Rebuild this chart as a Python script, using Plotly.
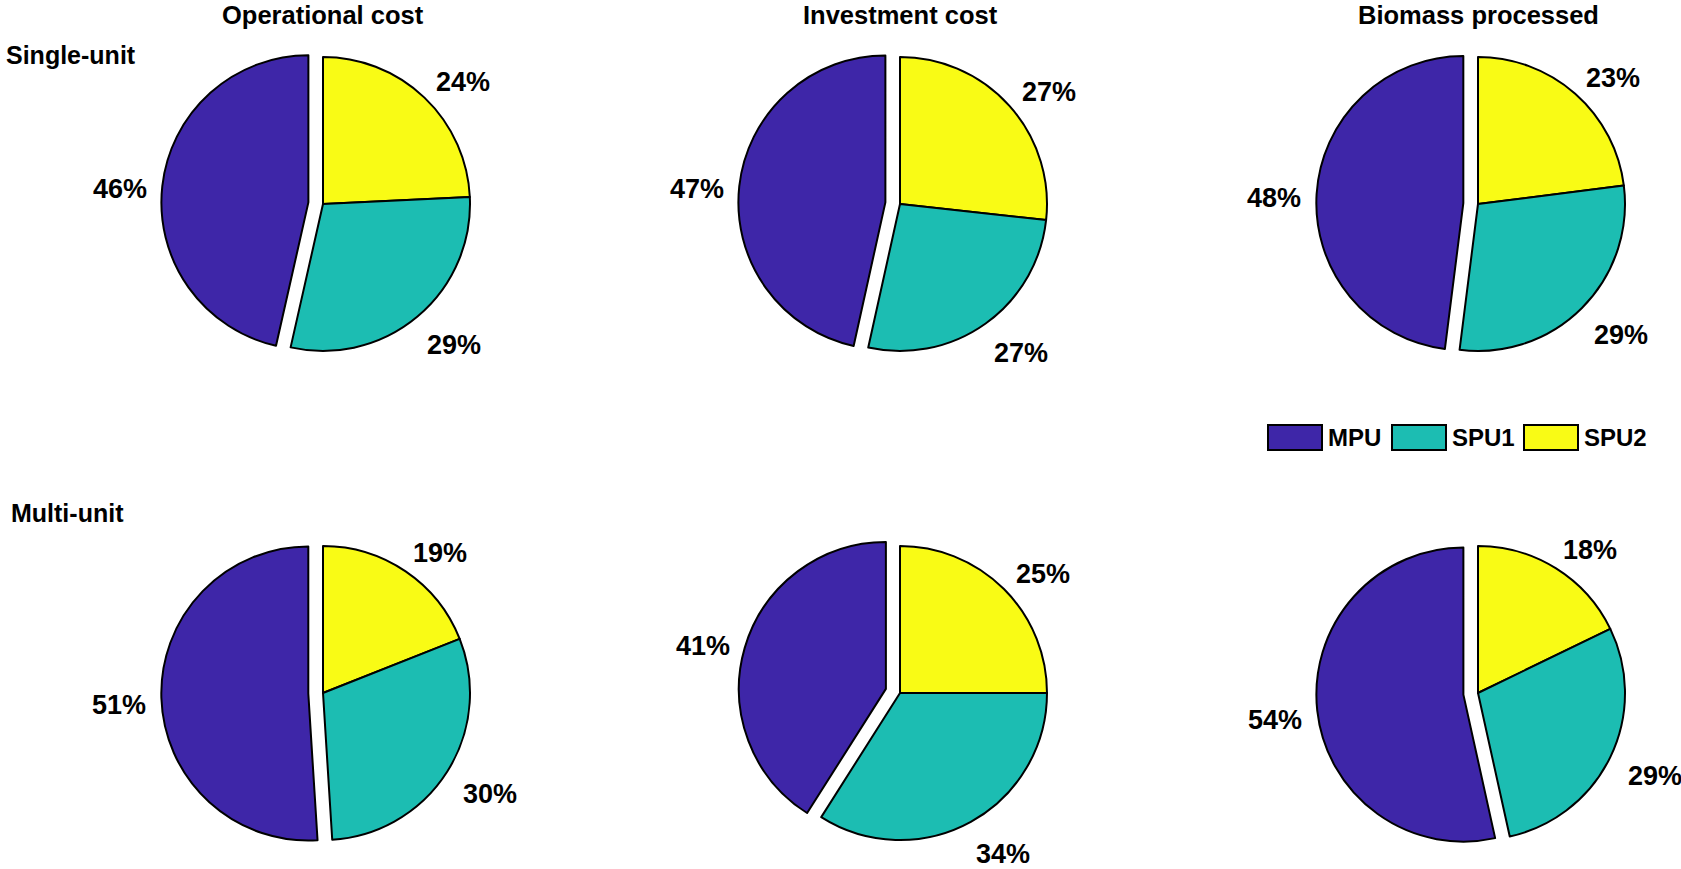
import math
import plotly.graph_objects as go

# ---- data ----
units = ["SPU2", "SPU1", "MPU"]          # clockwise from 12 o'clock
colors = ["#F9FB15", "#1CBDB2", "#3E26A8"]
legend_order = ["MPU", "SPU1", "SPU2"]
columns = ["Operational cost", "Investment cost", "Biomass processed"]
rows = ["Single-unit", "Multi-unit"]

single_operational = [24, 29, 46]
single_investment = [27, 27, 47]
single_biomass = [23, 29, 48]
multi_operational = [19, 30, 51]
multi_investment = [25, 34, 41]
multi_biomass = [18, 29, 54]

explode = [0, 0, 0.1]

# ---- layout constants ----
W, H = 1681, 869
centers_x = [323, 900, 1478]
centers_y = [204, 693]
R = 147
LABEL_DIST = 1.2    # label anchor distance from slice centre, in radii
PAD_X_RIGHT, PAD_X_LEFT, PAD_Y = 18, 13, 6

FONT = "Liberation Sans, Arial, sans-serif"

fig = go.Figure()
grid = [[single_operational, single_investment, single_biomass],
        [multi_operational, multi_investment, multi_biomass]]

half = R * (1 + max(explode))
for r, row_vals in enumerate(grid):
    for c, vals in enumerate(row_vals):
        cx, cy = centers_x[c], centers_y[r]
        fig.add_trace(go.Pie(
            labels=units,
            values=vals,
            textinfo="none",
            marker=dict(colors=colors, line=dict(color="black", width=2)),
            sort=False,
            direction="clockwise",
            rotation=0,
            pull=explode,
            hoverinfo="label+percent",
            showlegend=False,
            domain=dict(x=[(cx - half) / W, (cx + half) / W],
                        y=[1 - (cy + half) / H, 1 - (cy - half) / H]),
        ))
        # percentage labels placed along each slice bisector
        total = sum(vals)
        cum = 0
        for v, p in zip(vals, explode):
            mid = (cum + v / 2) / total * 2 * math.pi
            cum += v
            d = (LABEL_DIST + p) * R
            sx = math.sin(mid)
            lx = cx + d * sx + (PAD_X_RIGHT if sx >= 0 else -PAD_X_LEFT)
            ly = cy - d * math.cos(mid) + PAD_Y
            fig.add_annotation(text=f"<b>{v}%</b>", x=lx / W, y=1 - ly / H,
                               xref="paper", yref="paper", xanchor="center", yanchor="middle",
                               showarrow=False, borderpad=0,
                               font=dict(family=FONT, size=27, color="black"))

# column titles
for c, title in enumerate(columns):
    fig.add_annotation(text=f"<b>{title}</b>", x=centers_x[c] / W, y=1 - 15 / H,
                       xref="paper", yref="paper", xanchor="center", yanchor="middle",
                       showarrow=False, font=dict(family=FONT, size=25.5, color="black"))

# row labels
fig.add_annotation(text=f"<b>{rows[0]}</b>", x=4 / W, y=1 - 55 / H, xref="paper", yref="paper",
                   xanchor="left", yanchor="middle", showarrow=False,
                   font=dict(family=FONT, size=25, color="black"))
fig.add_annotation(text=f"<b>{rows[1]}</b>", x=9 / W, y=1 - 513 / H, xref="paper", yref="paper",
                   xanchor="left", yanchor="middle", showarrow=False,
                   font=dict(family=FONT, size=25, color="black"))

# legend (wide MATLAB-style swatches)
leg_x0 = [1268, 1392, 1524]
leg_w, leg_y0, leg_y1 = 54, 425, 450
for name, x0 in zip(legend_order, leg_x0):
    col = colors[units.index(name)]
    fig.add_shape(type="rect", xref="paper", yref="paper",
                  x0=x0 / W, x1=(x0 + leg_w) / W, y0=1 - leg_y1 / H, y1=1 - leg_y0 / H,
                  fillcolor=col, line=dict(color="black", width=2))
    fig.add_annotation(text=f"<b>{name}</b>", x=(x0 + leg_w + 4) / W, y=1 - (leg_y0 + leg_y1) / 2 / H,
                       xref="paper", yref="paper", xanchor="left", yanchor="middle",
                       showarrow=False, font=dict(family=FONT, size=24, color="black"))

fig.update_layout(
    width=W, height=H,
    margin=dict(l=0, r=0, t=0, b=0, autoexpand=False),
    paper_bgcolor="white", plot_bgcolor="white",
    font=dict(family=FONT, color="black"),
    showlegend=False,
)

fig.write_html("out.html")
